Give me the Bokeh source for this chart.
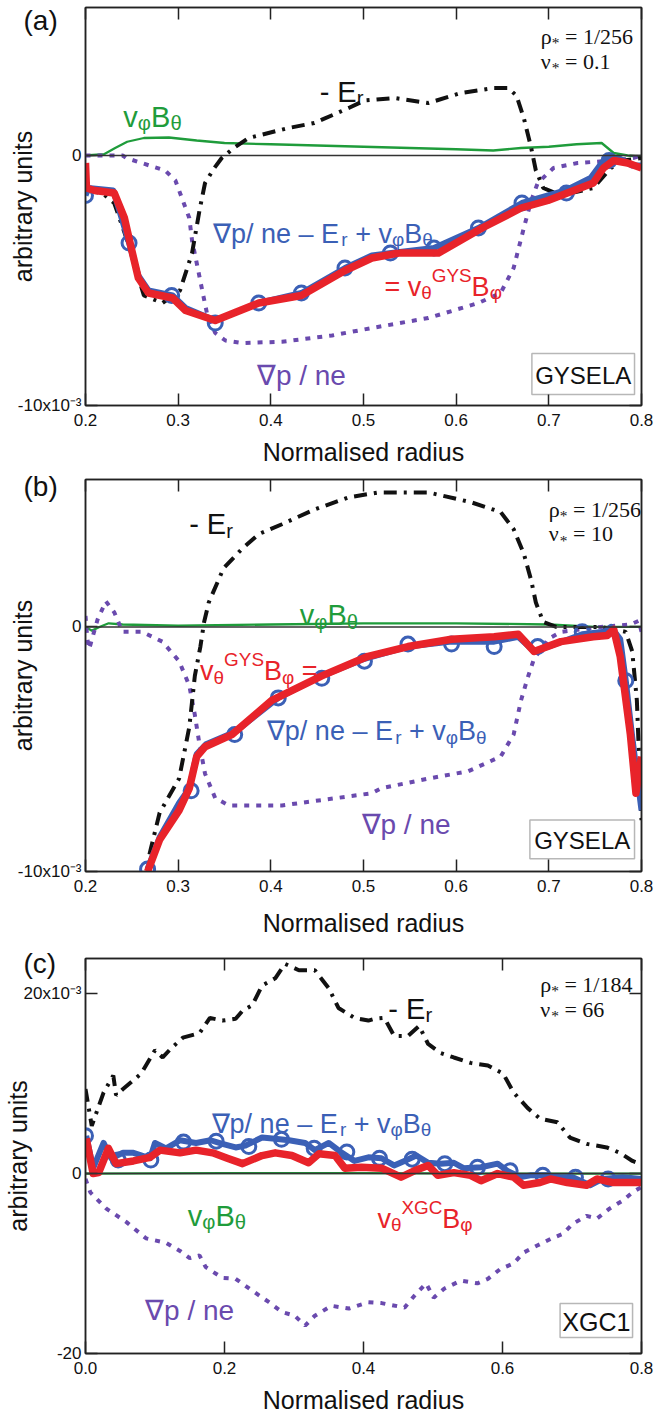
from bokeh.plotting import figure
from bokeh.models import (Label, LinearAxis, FixedTicker, Span, BoxAnnotation,
                          Range1d, NumeralTickFormatter)
from bokeh.layouts import column
from bokeh.embed import file_html
from bokeh.resources import INLINE

# ---------------------------------------------------------------------------
# Profiles versus normalised radius, values in units of 1e-3 (arbitrary units)
# ---------------------------------------------------------------------------

# (a) GYSELA, rho* = 1/256, nu* = 0.1
a_er_x = [0.200, 0.218, 0.231, 0.245, 0.263, 0.283, 0.302, 0.315, 0.323, 0.329, 0.339,
          0.347, 0.360, 0.376, 0.419, 0.447, 0.484, 0.501, 0.533, 0.570, 0.605, 0.641,
          0.656, 0.665, 0.673, 0.681, 0.686, 0.694, 0.713, 0.748, 0.767, 0.781, 0.800]
a_er_y = [-1.4, -1.5, -1.9, -3.4, -5.6, -5.9, -5.4, -3.9, -2.2, -1.1, -0.5,
          -0.1, 0.3, 0.7, 1.1, 1.3, 1.9, 2.2, 2.3, 2.1, 2.5, 2.7,
          2.7, 2.4, 1.5, 0.3, -0.6, -1.3, -1.6, -1.3, -0.5, -0.2, -0.1]
a_vb_x = [0.200, 0.220, 0.232, 0.245, 0.263, 0.290, 0.320, 0.350, 0.400, 0.450, 0.500,
          0.550, 0.600, 0.640, 0.670, 0.700, 0.730, 0.757, 0.770, 0.785, 0.800]
a_vb_y = [0.0, 0.05, 0.3, 0.55, 0.7, 0.72, 0.6, 0.5, 0.45, 0.4, 0.35,
          0.3, 0.25, 0.2, 0.3, 0.35, 0.45, 0.5, 0.1, 0.0, -0.05]
a_gp_x = [0.200, 0.218, 0.240, 0.244, 0.269, 0.286, 0.297, 0.304, 0.312, 0.315, 0.320,
          0.326, 0.331, 0.340, 0.351, 0.369, 0.412, 0.466, 0.509, 0.570, 0.624, 0.648,
          0.662, 0.673, 0.681, 0.688, 0.705, 0.731, 0.770, 0.791, 0.800]
a_gp_y = [0.0, 0.0, 0.0, -0.1, -0.4, -0.6, -1.0, -1.7, -2.5, -3.4, -4.3,
          -5.4, -6.3, -7.1, -7.4, -7.5, -7.45, -7.2, -6.9, -6.5, -5.9, -5.5,
          -4.5, -2.9, -1.8, -1.1, -0.5, -0.3, -0.2, -0.1, 0.0]
a_th_x = [0.200, 0.201, 0.210, 0.231, 0.242, 0.250, 0.257, 0.268, 0.294, 0.308, 0.340,
          0.387, 0.433, 0.480, 0.509, 0.538, 0.581, 0.628, 0.670, 0.699, 0.720, 0.748,
          0.759, 0.770, 0.785, 0.800]
a_th_y = [-0.3, -1.3, -1.4, -1.5, -2.5, -3.8, -4.9, -5.5, -5.7, -6.2, -6.6,
          -5.9, -5.6, -4.6, -4.1, -3.9, -3.9, -2.9, -2.1, -1.8, -1.5, -1.1,
          -0.5, -0.2, -0.3, -0.5]
a_sum_x = [0.200, 0.203, 0.230, 0.247, 0.257, 0.268, 0.294, 0.308, 0.340, 0.387, 0.433,
           0.480, 0.509, 0.530, 0.576, 0.624, 0.671, 0.718, 0.745, 0.757, 0.763, 0.775,
           0.790, 0.800]
a_sum_y = [-1.6, -1.3, -1.4, -3.5, -4.8, -5.4, -5.6, -6.1, -6.6, -5.9, -5.5,
           -4.5, -4.0, -3.9, -3.7, -2.9, -1.9, -1.4, -0.9, -0.3, -0.1, -0.1,
           -0.4, -0.4]
a_mk_x = [0.200, 0.247, 0.293, 0.340, 0.387, 0.433, 0.480, 0.529, 0.576, 0.624, 0.671,
          0.719, 0.765]
a_mk_y = [-1.6, -3.5, -5.6, -6.7, -5.9, -5.5, -4.5, -3.9, -3.7, -2.9, -1.9, -1.5, -0.2]

# (b) GYSELA, rho* = 1/256, nu* = 10
b_er_x = [0.269, 0.280, 0.301, 0.312, 0.318, 0.324, 0.328, 0.333, 0.349, 0.369, 0.387,
          0.412, 0.447, 0.484, 0.516, 0.570, 0.616, 0.648, 0.662, 0.673, 0.681, 0.686,
          0.694, 0.708, 0.756, 0.783, 0.790, 0.795, 0.800]
b_er_y = [-9.3, -7.6, -6.2, -4.1, -2.0, -0.8, 0.2, 1.0, 2.4, 3.2, 3.8,
          4.2, 4.8, 5.3, 5.5, 5.5, 5.1, 4.7, 4.0, 3.0, 1.9, 1.0,
          0.2, 0.0, 0.0, -0.2, -1.0, -3.0, -7.9]
b_vb_x = [0.200, 0.207, 0.215, 0.225, 0.240, 0.300, 0.400, 0.500, 0.600, 0.700, 0.750,
          0.780, 0.800]
b_vb_y = [0.0, -0.15, 0.0, 0.15, 0.1, 0.05, 0.1, 0.15, 0.15, 0.1, 0.0, 0.0, 0.0]
b_gp_x = [0.200, 0.202, 0.204, 0.213, 0.222, 0.231, 0.240, 0.261, 0.283, 0.301, 0.312,
          0.318, 0.323, 0.329, 0.340, 0.355, 0.412, 0.509, 0.519, 0.570, 0.613, 0.648,
          0.662, 0.670, 0.677, 0.684, 0.694, 0.699, 0.713, 0.756, 0.788, 0.797, 0.800]
b_gp_y = [0.45, -0.5, -0.9, 0.3, 1.05, 0.6, -0.2, -0.2, -0.6, -1.4, -2.4,
          -3.6, -4.8, -6.0, -7.0, -7.3, -7.3, -6.8, -6.6, -6.2, -5.9, -5.3,
          -4.4, -3.0, -2.1, -1.3, -0.8, -0.5, -0.2, 0.0, 0.1, 0.25, -0.2]
b_th_x = [0.267, 0.280, 0.301, 0.312, 0.320, 0.329, 0.358, 0.401, 0.455, 0.505, 0.548,
          0.595, 0.641, 0.667, 0.684, 0.713, 0.748, 0.763, 0.770, 0.777, 0.788, 0.794,
          0.800]
b_th_y = [-10.0, -8.7, -7.5, -6.6, -5.3, -4.9, -4.4, -3.0, -2.0, -1.2, -0.8,
          -0.5, -0.4, -0.3, -1.0, -0.6, -0.4, -0.35, -0.1, -1.2, -4.4, -6.8,
          -5.3]
b_sum_x = [0.267, 0.280, 0.301, 0.312, 0.320, 0.330, 0.361, 0.408, 0.455, 0.501, 0.548,
           0.595, 0.641, 0.667, 0.684, 0.700, 0.736, 0.760, 0.767, 0.777, 0.783, 0.790,
           0.800]
b_sum_y = [-9.9, -8.6, -7.2, -6.6, -5.2, -4.8, -4.3, -2.9, -2.0, -1.3, -0.8,
           -0.6, -0.6, -0.4, -1.0, -0.8, -0.3, -0.2, 0.0, -0.5, -2.2, -4.5,
           -7.5]
b_mk_x = [0.267, 0.314, 0.361, 0.408, 0.455, 0.501, 0.548, 0.595, 0.641, 0.688, 0.736,
          0.783]
b_mk_y = [-9.9, -6.7, -4.4, -2.9, -2.1, -1.4, -0.7, -0.7, -0.8, -0.8, -0.2, -2.2]

# (c) XGC1, rho* = 1/184, nu* = 66
c_er_x = [0.000, 0.009, 0.026, 0.040, 0.044, 0.054, 0.080, 0.100, 0.111, 0.123, 0.140,
          0.164, 0.179, 0.197, 0.216, 0.226, 0.240, 0.254, 0.273, 0.287, 0.307, 0.330,
          0.350, 0.364, 0.387, 0.407, 0.416, 0.430, 0.444, 0.464, 0.480, 0.493, 0.511,
          0.530, 0.554, 0.579, 0.601, 0.616, 0.636, 0.654, 0.679, 0.697, 0.721, 0.750,
          0.769, 0.787, 0.794]
c_er_y = [9.4, 5.3, 9.0, 10.9, 8.7, 9.4, 11.1, 13.7, 12.9, 13.9, 15.1,
          15.6, 17.3, 17.0, 17.2, 18.1, 18.7, 20.9, 21.7, 23.3, 22.6, 22.6,
          20.6, 18.4, 17.3, 17.0, 17.2, 17.3, 15.3, 15.3, 16.4, 14.4, 13.4,
          12.9, 12.3, 12.0, 11.1, 9.0, 7.3, 6.1, 5.7, 4.0, 3.3, 2.9,
          2.3, 1.4, 1.2]
c_vb_x = [0.0, 0.2, 0.4, 0.6, 0.8]
c_vb_y = [0.0, 0.05, 0.05, 0.0, 0.0]
c_gp_x = [0.000, 0.007, 0.030, 0.059, 0.087, 0.116, 0.136, 0.150, 0.164, 0.173, 0.197,
          0.216, 0.236, 0.264, 0.283, 0.301, 0.316, 0.330, 0.354, 0.379, 0.407, 0.426,
          0.459, 0.473, 0.490, 0.501, 0.516, 0.540, 0.564, 0.579, 0.597, 0.616, 0.630,
          0.650, 0.671, 0.687, 0.701, 0.721, 0.736, 0.754, 0.773, 0.787, 0.800]
c_gp_y = [-0.6, -2.1, -3.9, -5.4, -7.2, -7.7, -8.6, -9.4, -9.1, -10.4, -11.6,
          -11.7, -12.8, -14.3, -15.4, -15.8, -16.9, -15.8, -14.7, -15.0, -14.3, -14.4,
          -14.9, -13.6, -12.2, -13.8, -12.8, -11.9, -12.2, -11.7, -10.6, -10.0, -8.8,
          -8.0, -7.2, -6.7, -5.6, -4.7, -5.0, -3.9, -3.0, -2.1, -1.5]
c_th_x = [0.001, 0.011, 0.019, 0.033, 0.044, 0.069, 0.093, 0.107, 0.136, 0.159, 0.183,
          0.204, 0.226, 0.254, 0.273, 0.297, 0.321, 0.336, 0.359, 0.373, 0.397, 0.426,
          0.454, 0.473, 0.493, 0.507, 0.530, 0.554, 0.569, 0.593, 0.616, 0.630, 0.654,
          0.669, 0.693, 0.721, 0.736, 0.759, 0.800]
c_th_y = [3.9, 0.0, 0.1, 2.8, 1.1, 1.4, 1.8, 2.6, 2.3, 2.6, 2.3,
          1.7, 1.1, 2.0, 2.3, 2.0, 1.2, 2.2, 2.0, 0.6, 0.7, 0.6,
          -0.4, 0.3, 0.9, -0.2, 0.1, -0.2, -0.8, 0.0, -0.4, -1.3, -1.0,
          -0.6, -1.0, -1.3, -0.6, -1.0, -1.0]
c_sum_x = [0.001, 0.011, 0.026, 0.037, 0.054, 0.069, 0.093, 0.100, 0.116, 0.136, 0.159,
           0.180, 0.197, 0.216, 0.230, 0.254, 0.269, 0.293, 0.316, 0.330, 0.350, 0.369,
           0.387, 0.407, 0.426, 0.444, 0.459, 0.476, 0.493, 0.511, 0.530, 0.544, 0.569,
           0.593, 0.607, 0.626, 0.640, 0.664, 0.683, 0.701, 0.726, 0.744, 0.773, 0.800]
c_sum_y = [4.2, 0.6, 3.4, 1.7, 2.3, 2.3, 1.7, 3.4, 2.8, 3.7, 3.4,
           3.7, 3.3, 2.9, 3.1, 4.0, 3.9, 3.7, 3.4, 2.6, 3.4, 2.3,
           1.4, 1.8, 1.7, 0.9, 1.4, 2.0, 1.2, 1.1, 1.2, 0.6, 0.7,
           1.1, 0.3, -0.4, -0.2, -0.2, -0.4, -0.4, -1.3, -0.6, -0.4, -0.6]
c_mk_x = [0.000, 0.047, 0.094, 0.141, 0.188, 0.235, 0.282, 0.329, 0.376, 0.423, 0.470,
          0.517, 0.564, 0.611, 0.658, 0.705, 0.752]
c_mk_y = [4.2, 1.5, 1.5, 3.5, 3.6, 3.0, 3.8, 2.8, 2.4, 1.7, 1.6,
          1.1, 0.7, 0.3, -0.2, -0.4, -0.6]

# axis ticks
ab_xticks = [0.2, 0.3, 0.4, 0.5, 0.6, 0.7, 0.8]
c_xticks = [0.0, 0.2, 0.4, 0.6, 0.8]
ab_yticks = [-10, 0]
c_yticks = [-20, 0, 20]

# ---------------------------------------------------------------------------
# styling
# ---------------------------------------------------------------------------
RED = "#e8232a"
BLUE = "#3b60b6"
GREEN = "#1f9c3b"
PURPLE = "#6a4aae"
BLACK = "#111111"
SANS = "Liberation Sans"
SERIF = "Liberation Serif"
NB = "\u00a0"  # non-breaking space keeps leading blanks of a text run

SANS_W = {' ': .278, NB: .278, '-': .333, '–': .556, '+': .584, '=': .584, '/': .278,
          '.': .278, 'E': .667, 'B': .667, 'G': .778, 'Y': .667, 'S': .667, 'X': .667,
          'C': .722, 'p': .556, 'n': .556, 'e': .556, 'r': .333, 'v': .5,
          'φ': .65, 'θ': .556, '∇': .75}
SERIF_W = {'ρ': .5, 'ν': .5, '*': .5, ' ': .25, NB: .25, '=': .564, '/': .278, '.': .25}


def sans_width(s, size):
    return sum(SANS_W.get(ch, .556) for ch in s) * size


def serif_width(s, size):
    return sum(SERIF_W.get(ch, .5) for ch in s) * size


class Frame:
    """Pixel box of a plot frame on the page and its data ranges."""

    def __init__(self, left, right, top, bottom, xr, yr):
        self.left, self.right, self.top, self.bottom = left, right, top, bottom
        self.xr, self.yr = xr, yr

    def at(self, px, py):
        x = self.xr[0] + (px - self.left) / (self.right - self.left) * (self.xr[1] - self.xr[0])
        y = self.yr[1] - (py - self.top) / (self.bottom - self.top) * (self.yr[1] - self.yr[0])
        return x, y


def rich(p, fr, px, py, parts, size, color, font=SANS, widthfn=sans_width):
    """Text run with sub/superscripts; parts are (text, kind)."""
    x, y = fr.at(px, py)
    off = 0.0
    for s, kind in parts:
        s = s.replace(" ", NB)
        fs = size if kind == "n" else size * 0.7
        dy = {"n": 0.0, "sub": -0.24 * size, "sup": 0.40 * size, "ast": -0.28 * size}[kind]
        p.add_layout(Label(x=x, y=y, x_offset=off, y_offset=dy, text=s,
                           text_font=font, text_font_size=f"{fs:.1f}px",
                           text_color=color, text_baseline="alphabetic",
                           text_align="left"))
        off += widthfn(s, fs)


def boxed(p, fr, l, r, t, b, text, size):
    x0, y0 = fr.at(l, b)
    x1, y1 = fr.at(r, t)
    p.add_layout(BoxAnnotation(left=x0, right=x1, bottom=y0, top=y1, fill_color="white",
                               fill_alpha=1.0, line_color="#111111", line_width=1.5))
    cx, cy = fr.at((l + r) / 2, (t + b) / 2 + 1)
    p.add_layout(Label(x=cx, y=cy, text=text, text_font=SANS, text_font_size=f"{size}px",
                       text_color="#111111", text_align="center", text_baseline="middle"))


def panel(page_top, height, fr, xticks, yticks, ylabels, letter, letter_standoff,
          ylabel_standoff, xlabel_standoff):
    p = figure(width=655, height=height, x_range=Range1d(*fr.xr), y_range=Range1d(*fr.yr),
               output_backend="svg", toolbar_location=None,
               min_border_left=fr.left, min_border_right=655 - fr.right,
               min_border_top=fr.top - page_top,
               min_border_bottom=page_top + height - fr.bottom)
    p.xgrid.visible = False
    p.ygrid.visible = False
    p.outline_line_color = "#222222"
    p.outline_line_width = 1.5

    # panel letter, pulled down beside the top-left corner of the frame
    p.title.text = letter
    p.title.align = "left"
    p.title.offset = -62
    p.title.standoff = letter_standoff
    p.title.text_font = SANS
    p.title.text_font_size = "28px"
    p.title.text_font_style = "normal"
    p.title.text_color = "#111111"

    xb = p.xaxis[0]
    yl = p.yaxis[0]
    xb.ticker = FixedTicker(ticks=xticks)
    xb.formatter = NumeralTickFormatter(format="0.0")
    yl.ticker = FixedTicker(ticks=yticks)
    yl.major_label_overrides = ylabels
    xt = LinearAxis(ticker=FixedTicker(ticks=xticks))
    yr = LinearAxis(ticker=FixedTicker(ticks=yticks))
    p.add_layout(xt, "above")
    p.add_layout(yr, "right")
    for ax in (xb, yl, xt, yr):
        ax.major_tick_in = 12
        ax.major_tick_out = 0
        ax.minor_tick_line_color = None
        ax.axis_line_color = "#222222"
        ax.axis_line_width = 1.5
        ax.major_tick_line_color = "#222222"
        ax.major_tick_line_width = 1.5
        ax.major_label_text_font = SANS
        ax.major_label_text_font_size = "17px"
        ax.major_label_text_color = "#111111"
        ax.major_label_standoff = 4
    xb.major_label_standoff = 8
    for ax in (xt, yr):
        ax.major_label_text_font_size = "1px"
        ax.major_label_text_color = None
        ax.major_label_standoff = 0

    xb.axis_label = "Normalised radius"
    xb.axis_label_standoff = xlabel_standoff
    yl.axis_label = "arbitrary units"
    yl.axis_label_standoff = ylabel_standoff
    for ax in (xb, yl):
        ax.axis_label_text_font = SANS
        ax.axis_label_text_font_size = "25px"
        ax.axis_label_text_font_style = "normal"
        ax.axis_label_text_color = "#111111"

    p.add_layout(Span(location=0, dimension="width", line_color="#333333", line_width=1.5))
    return p


def curves(p, vb, gp, er, sm, mk, th):
    p.line(vb[0], vb[1], line_color=GREEN, line_width=2.3)
    p.line(gp[0], gp[1], line_color=PURPLE, line_width=4, line_dash="5 7")
    p.line(er[0], er[1], line_color=BLACK, line_width=4, line_dash="13 7 3 7")
    p.line(sm[0], sm[1], line_color=BLUE, line_width=6, line_join="round")
    p.scatter(mk[0], mk[1], marker="circle", size=14, fill_color=None,
              line_color=BLUE, line_width=3)
    p.line(th[0], th[1], line_color=RED, line_width=7.5, line_join="round")


def params(p, fr, rho, nu, px, py):
    rich(p, fr, px, py, [("ρ", "n"), ("*", "ast"), (" = " + rho, "n")], 22, BLACK,
         font=SERIF, widthfn=serif_width)
    rich(p, fr, px, py + 25, [("ν", "n"), ("*", "ast"), (" = " + nu, "n")], 22, BLACK,
         font=SERIF, widthfn=serif_width)


SUM_PARTS = [("∇p/ ne – E", "n"), ("r", "sub"), (" + v", "n"), ("φ", "sub"),
             ("B", "n"), ("θ", "sub")]
VB_PARTS = [("v", "n"), ("φ", "sub"), ("B", "n"), ("θ", "sub")]
ER_PARTS = [("- E", "n"), ("r", "sub")]
GP_PARTS = [("∇p / ne", "n")]

# ---------------- panel (a) ----------------
fa = Frame(83, 641, 7, 405, (0.2, 0.8), (-10.0, 5.92))
pa = panel(0, 468, fa, ab_xticks, ab_yticks, {-10: "-10x10⁻³", 0: "0"}, "(a)", -56, -22, 9)
curves(pa, (a_vb_x, a_vb_y), (a_gp_x, a_gp_y), (a_er_x, a_er_y),
       (a_sum_x, a_sum_y), (a_mk_x, a_mk_y), (a_th_x, a_th_y))
params(pa, fa, "1/256", "0.1", 540, 36)
rich(pa, fa, 121, 116, VB_PARTS, 29, GREEN)
rich(pa, fa, 318, 91, ER_PARTS, 29, BLACK)
rich(pa, fa, 211, 233, SUM_PARTS, 27, BLUE)
rich(pa, fa, 383, 286, [("= v", "n"), ("θ", "sub"), ("GYS", "sup"), ("B", "n"), ("φ", "sub")],
     27, RED)
rich(pa, fa, 255, 375, GP_PARTS, 28, PURPLE)
boxed(pa, fa, 531, 634, 353, 394, "GYSELA", 24)

# ---------------- panel (b) ----------------
fb = Frame(83, 641, 479, 875, (0.2, 0.8), (-10.0, 6.03))
pb = panel(468, 471, fb, ab_xticks, ab_yticks, {-10: "-10x10⁻³", 0: "0"}, "(b)", -44, -22, 14)
curves(pb, (b_vb_x, b_vb_y), (b_gp_x, b_gp_y), (b_er_x, b_er_y),
       (b_sum_x, b_sum_y), (b_mk_x, b_mk_y), (b_th_x, b_th_y))
params(pb, fb, "1/256", "10", 548, 509)
rich(pb, fb, 187, 524, ER_PARTS, 29, BLACK)
rich(pb, fb, 298, 616, VB_PARTS, 29, GREEN)
rich(pb, fb, 198, 672, [("v", "n"), ("θ", "sub"), ("GYS", "sup"), ("B", "n"), ("φ", "sub"),
                        (" =", "n")], 27, RED)
rich(pb, fb, 265, 733, SUM_PARTS, 27, BLUE)
rich(pb, fb, 360, 828, GP_PARTS, 28, PURPLE)
boxed(pb, fb, 529, 634, 823, 862, "GYSELA", 24)

# ---------------- panel (c) ----------------
fc = Frame(82, 642, 958, 1353, (0.0, 0.8), (-20.0, 23.9))
pc = panel(939, 477, fc, c_xticks, c_yticks, {-20: "-20", 0: "0", 20: "20x10⁻³"}, "(c)",
           -40, -11, 9)
curves(pc, (c_vb_x, c_vb_y), (c_gp_x, c_gp_y), (c_er_x, c_er_y),
       (c_sum_x, c_sum_y), (c_mk_x, c_mk_y), (c_th_x, c_th_y))
params(pc, fc, "1/184", "66", 540, 984)
rich(pc, fc, 387, 1008, ER_PARTS, 29, BLACK)
rich(pc, fc, 209, 1123, SUM_PARTS, 27, BLUE)
rich(pc, fc, 185, 1215, VB_PARTS, 29, GREEN)
rich(pc, fc, 376, 1218, [("v", "n"), ("θ", "sub"), ("XGC", "sup"), ("B", "n"), ("φ", "sub")],
     27, RED)
rich(pc, fc, 142, 1310, GP_PARTS, 28, PURPLE)
boxed(pc, fc, 560, 633, 1303, 1337, "XGC1", 25)

layout = column(pa, pb, pc, spacing=0)
open("out.html", "w").write(file_html(layout, INLINE))
